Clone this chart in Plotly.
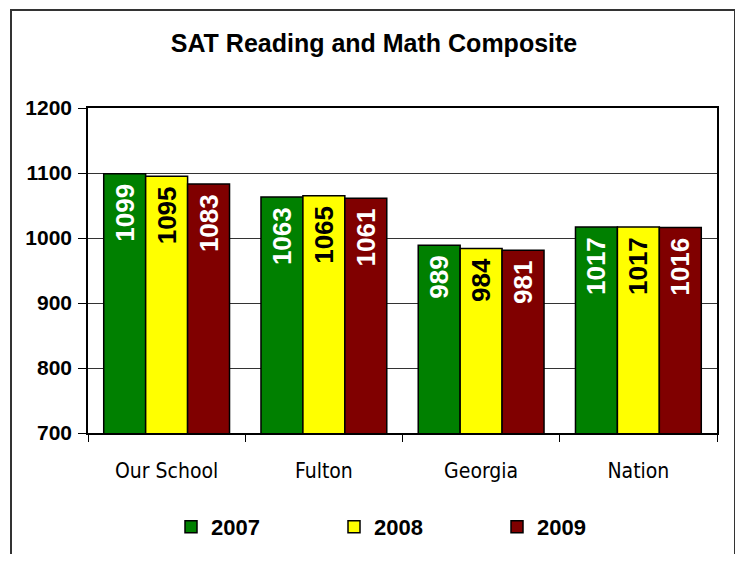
import plotly.graph_objects as go

categories = ["Our School", "Fulton", "Georgia", "Nation"]
years = ["2007", "2008", "2009"]
v2007 = [1099, 1063, 989, 1017]
v2008 = [1095, 1065, 984, 1017]
v2009 = [1083, 1061, 981, 1016]
y_ticks = [700, 800, 900, 1000, 1100, 1200]

series = [v2007, v2008, v2009]
colors = ["#008000", "#FFFF00", "#800000"]
text_colors = ["white", "black", "white"]

# page offset (body margin) and window-coordinate layout
O = 8
W, H = 743 - 2 * O, 562 - 2 * O
pl, pr, pt, pb = 88 - O, 717 - O, 108 - O, 433 - O
L, R, T, B = pl, W - pr, pt, H - pb
pw, ph = pr - pl, pb - pt

def px_x(win):
    return (win - O - pl) / pw

def px_y(win):
    return (pb - (win - O)) / ph

fig = go.Figure()
for name, vals, c, tc in zip(years, series, colors, text_colors):
    fig.add_trace(go.Bar(
        name="<b>" + name + "</b>", x=categories, y=vals,
        marker=dict(color=c, line=dict(color="black", width=1.5)),
        text=[str(v) + " " for v in vals], textposition="inside",
        insidetextanchor="end", textangle=-90,
        textfont=dict(family="Arial", size=26, color=tc, weight="bold"),
        cliponaxis=False,
    ))

fig.add_shape(type="rect", xref="paper", yref="paper",
              x0=px_x(11), x1=px_x(735), y0=px_y(620), y1=px_y(10),
              line=dict(color="#333333", width=2), fillcolor="rgba(0,0,0,0)")

fig.update_layout(
    width=W, height=H,
    margin=dict(l=L, r=R, t=T, b=B, autoexpand=False),
    paper_bgcolor="white", plot_bgcolor="white",
    barmode="group", bargap=0.2, bargroupgap=0,
    font=dict(family="Arial", color="black"),
    title=dict(text="<b>SAT Reading and Math Composite</b>", x=(374 - O) / W, xanchor="center",
               y=1 - (43 - O) / H, yanchor="middle", font=dict(size=25, family="Arial")),
    legend=dict(orientation="h", x=px_x(171), xanchor="left", y=px_y(527), yanchor="middle",
                font=dict(size=22, family="Arial"), entrywidth=118, entrywidthmode="pixels",
                traceorder="normal", itemclick=False),
    showlegend=True,
    uniformtext=dict(minsize=26, mode="show"),
)
fig.update_xaxes(showline=True, linecolor="black", linewidth=1.5, mirror=True,
                 ticks="outside", tickson="boundaries", ticklen=7, tickcolor="black",
                 tickfont=dict(family="Liberation Sans Narrow, DejaVu Sans Condensed, Arial", size=21),
                 ticklabelstandoff=18)
fig.update_yaxes(range=[700, 1200], tickvals=y_ticks, showline=True, linecolor="black",
                 linewidth=1.5, mirror=True, ticks="outside", ticklen=8, tickcolor="black",
                 showgrid=True, gridcolor="#333333", gridwidth=1,
                 tickfont=dict(family="Arial", size=21, weight="bold"),
                 ticklabelstandoff=2)
fig.write_html("out.html")
